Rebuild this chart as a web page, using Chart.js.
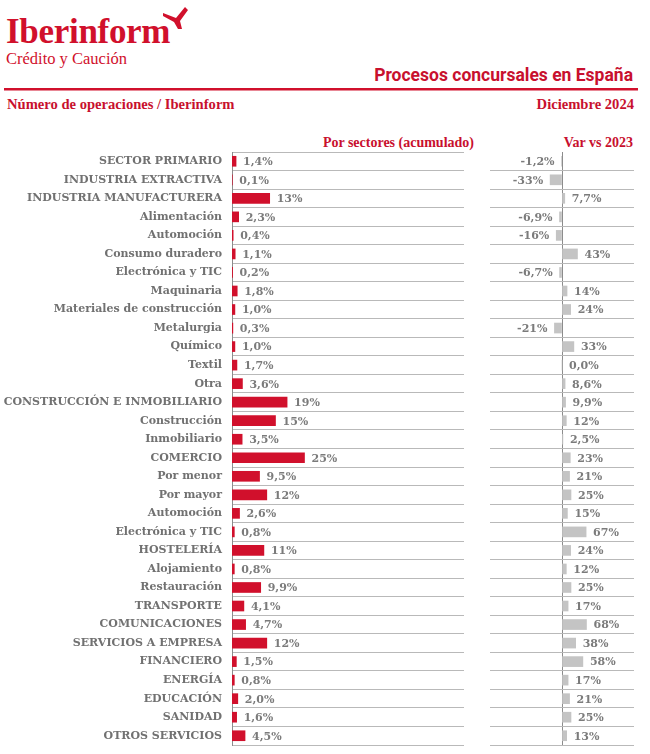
<!DOCTYPE html>
<html lang="es">
<head>
<meta charset="utf-8">
<title>Procesos concursales en España</title>
<script src="https://cdn.jsdelivr.net/npm/chart.js@4.4.1/dist/chart.umd.min.js"></script>
<style>
  body { margin: 0; background: #fff; }
  #page { position: relative; width: 650px; height: 754px; overflow: hidden; }
  #head { position: absolute; left: 0; top: 0; }
  .box { position: absolute; }
  #leftBox { left: 0; top: 140px; width: 480px; height: 612px; }
  #rightBox { left: 470px; top: 140px; width: 180px; height: 612px; }
</style>
</head>
<body>
<div id="page">
  <svg id="head" width="650" height="160" xmlns="http://www.w3.org/2000/svg">
    <text x="6" y="43" font-family="Liberation Serif" font-weight="bold" font-size="35" fill="#d1102c" letter-spacing="-0.3">Iberinform</text>
    <path d="M163 13 L176 18 L185 7 L188 10 L180 21 L182 29 L178 29 L174 22 L163 16 Z" fill="#d1102c"/>
    <text x="6" y="64" font-family="Liberation Serif" font-size="16.5" fill="#d1102c">Crédito y Caución</text>
    <text x="633" y="81" text-anchor="end" font-family="Roboto" font-weight="bold" font-size="17.5" fill="#c8102e">Procesos concursales en España</text>
    <rect x="4" y="88" width="634" height="2.5" fill="#d1102c"/>
    <text x="7" y="109" font-family="Liberation Serif" font-weight="bold" font-size="14.6" fill="#c8102e">Número de operaciones / Iberinform</text>
    <text x="634" y="109" text-anchor="end" font-family="Liberation Serif" font-weight="bold" font-size="14.6" fill="#c8102e">Diciembre 2024</text>
    <text x="474" y="147" text-anchor="end" font-family="Liberation Serif" font-weight="bold" font-size="14" fill="#c8102e">Por sectores (acumulado)</text>
    <text x="633" y="147" text-anchor="end" font-family="Liberation Serif" font-weight="bold" font-size="14" fill="#c8102e">Var vs 2023</text>
  </svg>
  <div class="box" id="leftBox"><canvas id="shareChart"></canvas></div>
  <div class="box" id="rightBox"><canvas id="varChart"></canvas></div>
</div>
<script>
const sectores = [
  'SECTOR PRIMARIO', 'INDUSTRIA EXTRACTIVA', 'INDUSTRIA MANUFACTURERA', 'Alimentación',
  'Automoción', 'Consumo duradero', 'Electrónica y TIC', 'Maquinaria',
  'Materiales de construcción', 'Metalurgia', 'Químico', 'Textil', 'Otra',
  'CONSTRUCCIÓN E INMOBILIARIO', 'Construcción', 'Inmobiliario', 'COMERCIO',
  'Por menor', 'Por mayor', 'Automoción', 'Electrónica y TIC', 'HOSTELERÍA',
  'Alojamiento', 'Restauración', 'TRANSPORTE', 'COMUNICACIONES',
  'SERVICIOS A EMPRESA', 'FINANCIERO', 'ENERGÍA', 'EDUCACIÓN', 'SANIDAD',
  'OTROS SERVICIOS'
];

// % del total acumulado
const cuota = [
  1.4, 0.1, 13, 2.3, 0.4, 1.1, 0.2, 1.8, 1.0, 0.3, 1.0, 1.7, 3.6,
  19, 15, 3.5, 25, 9.5, 12, 2.6, 0.8, 11, 0.8, 9.9, 4.1, 4.7,
  12, 1.5, 0.8, 2.0, 1.6, 4.5
];

// variación vs 2023 (%)
const variacion = [
  -1.2, -33, 7.7, -6.9, -16, 43, -6.7, 14, 24, -21, 33, 0.0, 8.6,
  9.9, 12, 2.5, 23, 21, 25, 15, 67, 24, 12, 25, 17, 68,
  38, 58, 17, 21, 25, 13
];

const ROJO = '#d1102c';
const GRIS_BARRA = '#c4c4c4';
const GRIS_TEXTO = '#717171';
const LINEA = '#b9b9b9';
const FUENTE = '"DejaVu Serif", serif';

Chart.defaults.font.family = FUENTE;
Chart.defaults.animation = false;

function fmt(v) {
  const s = Math.abs(v) >= 10 ? String(Math.round(v)) : v.toFixed(1).replace('.', ',');
  return s + '%';
}

// etiquetas de valor al final de cada barra
const etiquetas = {
  id: 'etiquetas',
  afterDatasetsDraw(chart) {
    const ctx = chart.ctx;
    const meta = chart.getDatasetMeta(0);
    const vals = chart.data.datasets[0].data;
    ctx.save();
    ctx.font = 'bold 11px ' + FUENTE;
    ctx.fillStyle = '#7b7b7b';
    ctx.textBaseline = 'middle';
    meta.data.forEach((bar, i) => {
      const v = vals[i];
      if (v >= 0) {
        ctx.textAlign = 'left';
        ctx.fillText(fmt(v), bar.x + 7, bar.y + 1);
      } else {
        ctx.textAlign = 'right';
        ctx.fillText(fmt(v), bar.x - 7, bar.y + 1);
      }
    });
    ctx.restore();
  }
};

new Chart(document.getElementById('shareChart'), {
  type: 'bar',
  data: {
    labels: sectores,
    datasets: [{ data: cuota, backgroundColor: ROJO, barThickness: 10 }]
  },
  options: {
    indexAxis: 'y',
    responsive: true,
    maintainAspectRatio: false,
    layout: { padding: { top: 12, bottom: 7, right: 16, left: 0 } },
    plugins: { legend: { display: false }, tooltip: { enabled: false } },
    scales: {
      x: { display: false, min: 0, max: 80 },
      y: {
        afterFit(scale) {
          scale.width = 232;
          scale.paddingTop = 0;
          scale.paddingBottom = 0;
        },
        border: { display: true, color: '#8c8c8c', width: 1 },
        grid: { color: LINEA, lineWidth: 1, drawTicks: false },
        ticks: {
          color: GRIS_TEXTO,
          padding: 10,
          font: { size: 11, weight: 'bold' }
        }
      }
    }
  },
  plugins: [etiquetas]
});

new Chart(document.getElementById('varChart'), {
  type: 'bar',
  data: {
    labels: sectores,
    datasets: [{ data: variacion, backgroundColor: GRIS_BARRA, barThickness: 10 }]
  },
  options: {
    indexAxis: 'y',
    responsive: true,
    maintainAspectRatio: false,
    layout: { padding: { top: 12, bottom: 7, right: 16, left: 20 } },
    plugins: { legend: { display: false }, tooltip: { enabled: false } },
    scales: {
      x: {
        min: -200, max: 200,
        border: { display: false },
        grid: {
          drawTicks: false,
          color: c => (c.tick && c.tick.value === 0) ? '#8c8c8c' : 'transparent'
        },
        ticks: { display: false, stepSize: 200 }
      },
      y: {
        afterFit(scale) { scale.width = 0; },
        border: { display: false },
        grid: {
          drawTicks: false,
          color: c => c.index === 0 ? 'transparent' : LINEA
        },
        ticks: { display: false }
      }
    }
  },
  plugins: [etiquetas]
});
</script>
</body>
</html>
